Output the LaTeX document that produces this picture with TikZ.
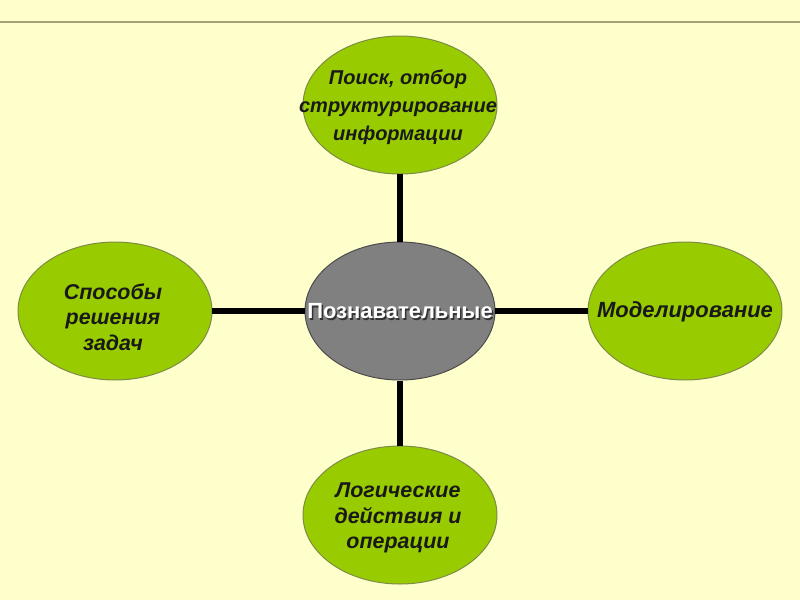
\documentclass[tikz,border=0pt]{standalone}
\usepackage{fontspec}
\setmainfont{Liberation Sans}
\usetikzlibrary{shapes.geometric}
\definecolor{fond}{HTML}{FFFFCC}
\definecolor{vert}{HTML}{99CC00}
\definecolor{bordvert}{HTML}{7C8C45}
\definecolor{filet}{HTML}{A3A07A}
\tikzset{
  bulle/.style={ellipse, draw=bordvert, line width=0.02cm, fill=vert, minimum width=3.88cm, minimum height=2.76cm, inner sep=0pt},
  centre/.style={ellipse, draw=black!70, line width=0.02cm, fill=black!50, minimum width=3.8cm, minimum height=2.76cm, inner sep=0pt},
  texte/.style={align=center, font=\bfseries\itshape\fontsize{12.2}{14.4}\selectfont, text=black!90},
  lien/.style={line width=0.12cm, black}
}
\begin{document}
\begin{tikzpicture}
                    [x=0.02cm,y=-0.02cm]
                    
                    % Fond et filet du haut
                    \fill [fond] (0,0) rectangle (800,600);
                    \useasboundingbox (0,0) rectangle (800,600);
                    \draw [filet, line width=0.04cm] (0,22) -- (800,22);
                    
                    % Ellipses
                    \node [centre] (C) at (400,311) {};
                    \node [bulle] (H) at (400,105) {};
                    \node [bulle] (G) at (115,311) {};
                    \node [bulle] (D) at (685,311) {};
                    \node [bulle] (B) at (400,515) {};
                    
                    % Liens
                    \draw [lien] (C) -- (H); \draw [lien] (C) -- (G); \draw [lien] (C) -- (D); \draw [lien] (C) -- (B);
                    
                    % Textes
                    \node [texte, font=\bfseries\itshape\fontsize{11.4}{15.9}\selectfont] (Ht) at (398,107) {Поиск, отбор\\структурирование\\информации};
                    \node [texte] (Gt) at (113,317) {Способы\\решения\\задач};
                    \node [texte, font=\bfseries\itshape\fontsize{12.5}{14.4}\selectfont] (Dt) at (685,312) {Моделирование};
                    \node [texte] (Bt) at (398,518) {Логические\\действия и\\операции};
                    \node [font=\bfseries\fontsize{12.5}{14.4}\selectfont, text=black!80] (Cs) at (401.5,313) {Познавательные};
                    \node [font=\bfseries\fontsize{12.5}{14.4}\selectfont, text=white] (Ct) at (400,311) {Познавательные};
                \end{tikzpicture}
\end{document}
